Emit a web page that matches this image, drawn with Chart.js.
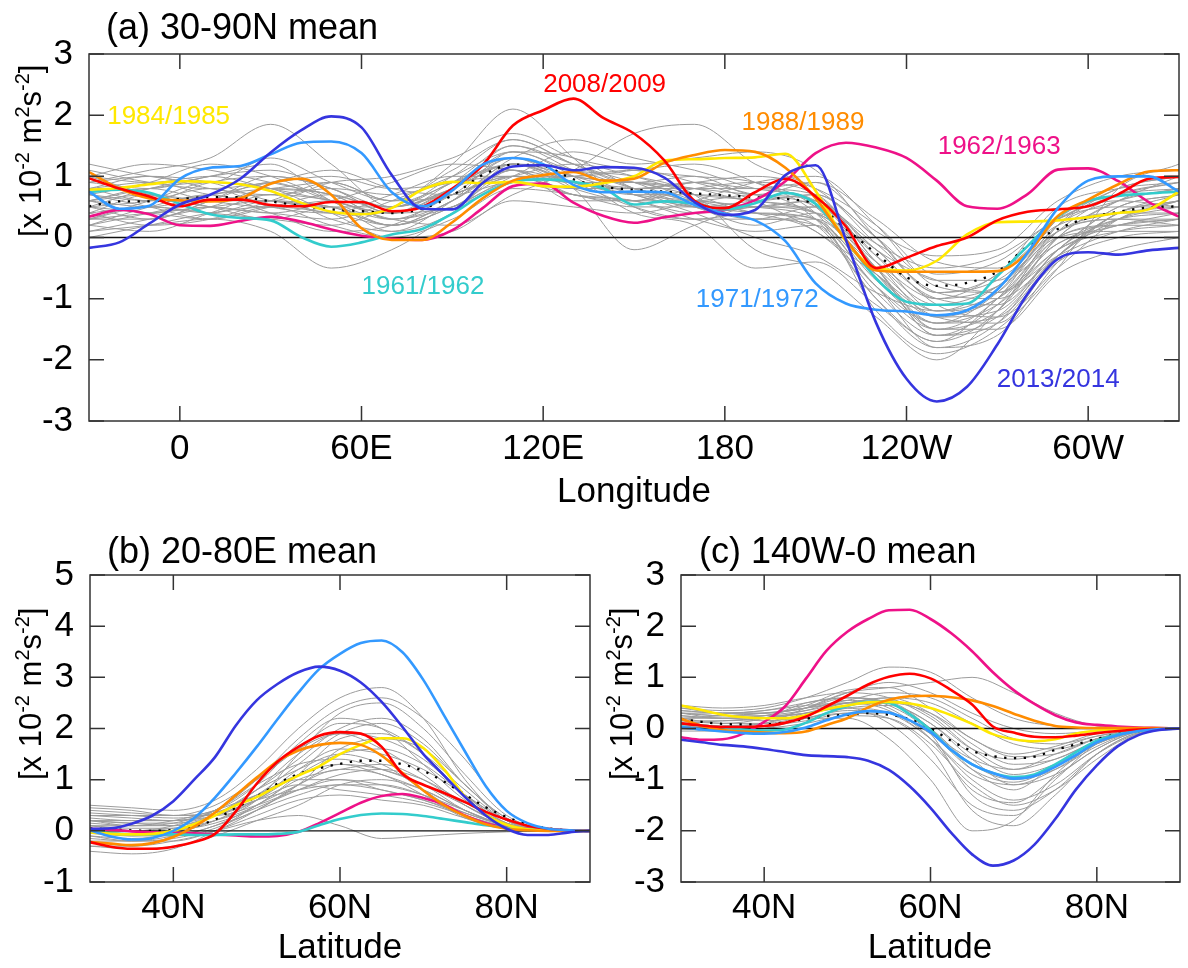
<!DOCTYPE html>
<html><head><meta charset="utf-8">
<script src="https://cdn.jsdelivr.net/npm/chart.js@4.4.1/dist/chart.umd.min.js"></script>
<style>
html,body{margin:0;padding:0;background:#fff;}
#wrap{position:relative;width:1188px;height:968px;overflow:hidden;}
canvas{position:absolute;}
</style></head><body>
<div id="wrap">
<canvas id="ca" width="1188" height="520" style="left:0;top:0;width:1188px;height:520px"></canvas>
<canvas id="cb" width="594" height="448" style="left:0;top:520px;width:594px;height:448px"></canvas>
<canvas id="cc" width="594" height="448" style="left:594px;top:520px;width:594px;height:448px"></canvas>
</div>
<script>
// ---------------- DATA ----------------
const seriesNames = ['2013/2014','1971/1972','2008/2009','1988/1989','1984/1985','1961/1962','1962/1963'];
const seriesColors = ['#3535df','#3399ff','#ff0000','#ff8c00','#ffe800','#33cccc','#ee1188'];

// Panel (a): longitude
const lonA = [-30,-20,-10,0,10,20,30,40,50,60,70,80,90,100,110,120,130,140,150,160,170,180,190,200,210,220,230,240,250,260,270,280,290,300,310,320,330];
const lonGray = [-30,-10,10,30,50,70,90,110,130,150,170,190,210,230,250,270,290,310,330];
const lonTickVals = [0,60,120,180,240,300];
const lonTickLabels = ['0','60E','120E','180','120W','60W'];
const yTicksA = [-3,-2,-1,0,1,2,3];

const a2013 = [-0.17,-0.08,0.23,0.54,0.70,0.96,1.39,1.75,1.98,1.80,1.02,0.47,0.46,0.89,1.16,1.18,1.10,1.15,1.14,0.98,0.58,0.37,0.45,1.02,1.18,-0.04,-1.40,-2.31,-2.68,-2.44,-1.75,-0.92,-0.35,-0.24,-0.28,-0.21,-0.17];
const a1971 = [0.75,0.47,0.52,0.96,1.14,1.17,1.36,1.55,1.57,1.38,0.74,0.51,0.77,1.19,1.30,1.20,0.86,0.74,0.75,0.74,0.53,0.39,0.28,-0.06,-0.75,-1.08,-1.18,-1.21,-1.27,-1.19,-0.85,-0.25,0.48,0.93,1.00,1.00,0.75];
const a2008 = [0.97,0.80,0.67,0.51,0.62,0.62,0.53,0.51,0.58,0.58,0.43,0.50,0.80,1.18,1.83,2.08,2.27,1.95,1.70,1.26,0.60,0.48,0.74,0.96,0.67,0.18,-0.50,-0.33,-0.14,0.00,0.28,0.42,0.46,0.51,0.71,0.96,0.99];
const a1988 = [1.07,0.80,0.64,0.61,0.59,0.64,0.88,0.96,0.70,0.15,-0.04,-0.04,0.25,0.64,0.93,1.02,1.07,0.93,0.96,1.22,1.35,1.43,1.40,1.14,0.64,-0.04,-0.54,-0.56,-0.56,-0.56,-0.55,-0.25,0.35,0.62,0.87,1.08,1.10];
const a1984 = [0.78,0.81,0.87,0.92,0.91,0.87,0.76,0.57,0.42,0.38,0.48,0.78,0.91,0.89,0.91,0.84,0.83,0.89,1.00,1.26,1.28,1.30,1.31,1.37,0.76,-0.06,-0.50,-0.54,-0.38,0.05,0.25,0.26,0.28,0.33,0.40,0.46,0.75];
const a1961 = [0.74,0.78,0.73,0.55,0.38,0.32,0.28,0.01,-0.15,-0.08,0.05,0.14,0.39,0.70,0.91,0.95,0.91,0.80,0.54,0.59,0.55,0.46,0.56,0.73,0.55,-0.04,-0.67,-1.05,-1.10,-1.08,-0.63,-0.14,0.34,0.60,0.68,0.72,0.75];
const a1962 = [0.34,0.45,0.38,0.20,0.19,0.27,0.34,0.26,0.13,0.03,-0.02,-0.04,0.12,0.48,0.84,0.88,0.57,0.35,0.24,0.33,0.40,0.45,0.61,0.92,1.38,1.55,1.47,1.30,0.93,0.51,0.47,0.71,1.11,1.13,0.92,0.58,0.34];
const aMean = [0.51,0.59,0.59,0.63,0.66,0.66,0.59,0.52,0.46,0.43,0.40,0.47,0.69,1.02,1.19,1.17,0.95,0.83,0.78,0.75,0.72,0.69,0.66,0.63,0.54,0.14,-0.26,-0.65,-0.79,-0.74,-0.56,-0.14,0.14,0.32,0.42,0.49,0.51];

const grayA = [
 [0.3,0.4,0.5,0.6,0.5,0.2,0.5,1.0,0.9,0.7,0.6,0.5,0.3,-0.6,-1.3,-1.0,-0.2,0.2,0.3],
 [0.9,1.1,1.3,1.85,1.2,0.5,0.8,1.3,1.0,0.9,0.8,0.7,0.6,-0.1,-0.5,-0.3,0.3,0.7,0.9],
 [0.1,0.2,0.3,0.1,-0.5,-0.2,0.4,1.1,0.7,0.6,0.9,0.8,0.7,-0.4,-1.1,-0.8,0.0,0.1,0.1],
 [1.2,1.0,0.9,1.3,0.9,0.6,1.2,2.1,1.3,0.5,0.3,0.4,0.3,-1.2,-1.9,-1.5,-0.5,0.8,1.2],
 [0.6,0.8,0.9,0.8,0.7,0.3,0.6,1.3,1.6,1.3,1.1,0.8,0.6,-0.5,-1.6,-1.3,-0.3,0.3,0.6],
 [0.4,0.5,0.4,0.3,0.2,0.5,0.9,1.5,1.2,0.9,1.0,0.7,0.9,0.3,-0.4,-0.5,0.2,0.4,0.4],
 [0.8,0.6,0.7,0.9,1.1,0.8,0.7,0.9,0.7,0.6,0.3,0.1,0.2,-0.8,-1.4,-0.9,0.2,0.6,0.8],
 [0.2,0.1,0.4,0.7,0.6,0.3,0.2,0.7,1.1,1.7,1.85,1.2,0.8,0.0,-0.9,-0.7,0.1,0.3,0.2],
 [0.7,0.9,1.2,1.0,0.6,0.1,0.4,1.2,0.8,-0.2,0.2,0.5,0.5,-0.3,-1.0,-1.1,-0.2,0.5,0.7],
 [1.0,0.7,0.5,0.4,0.3,0.6,1.0,1.4,1.1,1.0,0.7,-0.2,-0.5,-1.3,-2.0,-1.2,0.0,0.6,1.0],
 [0.5,0.6,0.8,0.5,0.4,0.7,1.0,1.0,0.8,0.8,0.9,1.0,0.8,0.2,-0.6,-0.4,0.3,0.5,0.5],
 [0.0,0.2,0.4,0.5,0.2,0.0,0.3,0.8,0.7,0.5,0.5,0.5,0.4,-0.5,-1.5,-1.5,-0.6,-0.2,0.0],
 [0.6,0.5,0.7,0.8,0.9,0.6,1.1,1.6,1.2,0.9,0.6,0.7,0.3,-1.0,-1.8,-1.6,-0.4,0.4,0.6],
 [0.9,1.0,0.9,0.6,0.5,0.2,0.5,1.0,1.4,1.2,1.3,1.4,1.1,0.0,-0.9,-0.6,0.5,0.8,0.9],
 [0.3,0.3,0.6,1.0,0.8,0.4,0.8,1.2,1.0,0.7,0.4,0.0,-0.3,-0.9,-1.2,-0.8,0.1,0.3,0.3],
 [0.4,0.7,0.5,0.3,0.5,0.2,0.6,1.1,0.6,0.6,0.8,0.9,0.7,-0.2,-0.7,-0.9,-0.1,0.2,0.4],
 [0.7,0.5,0.3,0.5,0.7,0.4,0.5,0.9,1.0,1.1,0.9,0.6,0.1,-0.6,-1.3,-1.4,-0.3,0.4,0.7],
 [0.5,0.8,1.0,1.2,0.6,0.3,0.7,1.3,0.9,0.8,0.5,0.2,0.4,-0.4,-1.0,-0.6,0.3,0.6,0.5],
 [0.2,0.4,0.6,0.7,0.3,0.1,0.6,1.4,1.0,0.4,0.2,-0.5,-0.4,-1.1,-1.7,-1.0,0.0,0.2,0.2],
 [1.1,0.9,0.8,0.9,1.0,0.8,0.9,1.2,0.9,0.8,0.8,0.8,0.9,0.1,-0.3,-0.2,0.6,1.0,1.1],
 [0.8,0.9,0.7,0.6,0.9,1.0,1.3,1.7,1.3,1.1,1.0,0.9,0.5,-0.6,-1.5,-1.2,0.0,0.6,0.8],
 [0.3,0.6,0.9,0.8,0.4,0.0,0.1,0.6,0.5,0.4,0.6,0.9,1.0,0.2,-0.8,-0.9,-0.3,0.1,0.3],
 [0.6,0.4,0.5,0.4,0.6,0.9,1.2,1.1,0.9,0.9,0.6,0.3,0.5,-0.2,-1.1,-1.3,-0.5,0.3,0.6],
 [1.0,1.2,1.1,0.9,0.7,0.5,0.8,1.5,1.1,0.7,0.5,0.4,0.2,-1.0,-1.7,-1.2,0.2,0.8,1.0],
 [0.5,0.3,0.6,0.9,0.6,0.4,0.9,1.3,1.0,0.9,0.7,0.6,0.4,-0.5,-1.2,-0.9,0.1,0.4,0.5],
 [0.2,0.5,0.7,0.4,0.1,0.2,0.7,1.0,1.2,1.0,0.7,0.4,0.3,-0.7,-1.4,-1.1,-0.2,0.1,0.2],
 [0.9,0.8,1.0,1.1,0.8,0.5,0.9,1.2,0.8,0.6,0.6,0.5,0.6,-0.3,-1.2,-1.0,0.1,0.7,0.9],
 [0.4,0.2,0.3,0.6,0.9,0.6,0.7,1.1,0.9,0.7,0.7,0.6,0.4,-0.2,-1.0,-0.8,-0.1,0.3,0.4],
 [0.6,0.7,0.6,0.6,0.4,0.4,0.8,1.4,1.3,0.8,0.5,0.6,0.7,-0.1,-0.9,-1.0,-0.3,0.4,0.6],
 [0.1,0.3,0.5,0.8,0.7,0.3,0.5,0.9,0.8,0.8,0.9,0.7,0.5,-0.5,-1.6,-1.4,-0.4,0.0,0.1],
 [0.8,1.0,0.8,0.7,0.8,0.7,0.9,1.0,1.0,1.1,1.2,0.9,0.4,-0.8,-1.5,-1.0,0.3,0.7,0.8],
 [0.5,0.4,0.3,0.5,0.4,0.2,0.6,1.2,1.1,0.8,0.6,0.4,0.1,-0.8,-1.8,-1.4,-0.2,0.3,0.5],
 [0.7,0.6,0.9,1.0,0.8,0.4,0.7,1.0,0.7,0.6,0.4,0.5,0.6,-0.4,-1.3,-1.2,-0.2,0.5,0.7],
 [0.3,0.5,0.4,0.6,0.5,0.5,0.8,1.2,0.9,0.5,0.3,0.3,0.2,-0.9,-1.6,-1.1,0.0,0.2,0.3],
 [1.0,0.9,1.0,0.8,0.6,0.4,0.7,1.0,0.9,0.9,0.8,0.6,0.7,0.0,-0.7,-0.7,0.2,0.8,1.0],
 [0.6,0.8,0.6,0.5,0.6,0.5,1.0,1.6,1.2,0.8,0.5,0.3,0.3,-0.6,-1.4,-1.3,-0.3,0.4,0.6]
];

// Panels (b) and (c): latitude
const latBC = [30,32.5,35,37.5,40,42.5,45,47.5,50,52.5,55,57.5,60,62.5,65,67.5,70,72.5,75,77.5,80,82.5,85,87.5,90];
const latGray = [30,35,40,45,50,55,60,65,70,75,80,85,90];
const latTickVals = [40,60,80];
const latTickLabels = ['40N','60N','80N'];
const yTicksB = [-1,0,1,2,3,4,5];
const yTicksC = [-3,-2,-1,0,1,2,3];

const b2013 = [0.04,0.05,0.14,0.30,0.58,1.00,1.44,2.06,2.55,2.87,3.10,3.21,3.13,2.90,2.52,2.03,1.50,1.08,0.66,0.30,0.04,-0.08,-0.08,-0.03,0];
const b1971 = [0.01,-0.11,-0.17,-0.14,0.00,0.25,0.65,1.13,1.64,2.18,2.70,3.16,3.46,3.67,3.72,3.49,2.95,2.25,1.55,0.87,0.39,0.15,0.04,0.01,0];
const b2008 = [-0.22,-0.31,-0.35,-0.35,-0.31,-0.22,-0.06,0.38,0.92,1.35,1.64,1.86,1.93,1.90,1.64,1.11,0.90,0.74,0.56,0.37,0.22,0.10,0.04,0.01,0];
const b1988 = [-0.22,-0.25,-0.28,-0.24,-0.12,0.08,0.36,0.70,1.04,1.36,1.57,1.68,1.72,1.68,1.47,1.13,0.79,0.50,0.29,0.13,0.04,0.01,0,0,0];
const b1984 = [-0.03,-0.06,-0.07,-0.06,0.00,0.13,0.30,0.50,0.66,0.88,1.08,1.26,1.50,1.68,1.81,1.81,1.62,1.20,0.67,0.32,0.12,0.03,0.01,0,0];
const b1961 = [0.01,-0.05,-0.07,-0.07,-0.07,-0.08,-0.08,-0.07,-0.07,-0.06,-0.02,0.11,0.23,0.31,0.34,0.33,0.29,0.23,0.17,0.11,0.06,0.03,0.01,0,0];
const b1962 = [0.04,0.02,-0.01,-0.03,-0.04,-0.05,-0.07,-0.09,-0.11,-0.10,-0.02,0.15,0.35,0.55,0.68,0.72,0.64,0.51,0.30,0.15,0.07,0.04,0.01,0,0];
const bMean = [0.05,0.03,0.01,0.00,0.02,0.09,0.22,0.45,0.67,0.92,1.11,1.22,1.31,1.37,1.37,1.30,1.17,0.96,0.71,0.46,0.27,0.13,0.05,0.01,0];

const grayB = [
 [0.5,0.45,0.4,0.6,1.2,2.0,2.6,2.8,2.2,1.0,0.2,0.02,0],
 [0.3,0.3,0.3,0.5,1.0,1.6,2.1,2.0,1.5,0.7,0.15,0.02,0],
 [-0.2,-0.3,-0.1,0.3,0.8,1.2,1.5,1.3,0.8,0.3,0.05,0,0],
 [0.2,0.1,0.2,0.4,0.7,1.0,1.0,0.8,0.6,0.3,0.08,0.01,0],
 [0.0,-0.1,0.0,0.2,0.6,1.5,2.3,2.5,2.0,1.1,0.3,0.03,0],
 [-0.4,-0.45,-0.35,0.0,0.5,0.9,1.3,1.2,0.9,0.4,0.1,0.01,0],
 [0.1,0.1,0.1,0.3,0.6,0.8,0.9,0.8,0.6,0.35,0.1,0.02,0],
 [0.4,0.35,0.3,0.4,0.9,1.7,2.2,2.0,1.3,0.6,0.15,0.02,0],
 [-0.1,-0.2,-0.2,0.0,0.3,0.6,0.7,0.6,0.5,0.25,0.08,0.01,0],
 [0.2,0.2,0.2,0.4,1.0,1.8,2.4,2.6,2.2,1.4,0.4,0.04,0],
 [0.0,0.0,0.05,0.2,0.5,1.1,1.8,1.9,1.5,0.8,0.2,0.02,0],
 [-0.3,-0.35,-0.3,-0.1,0.2,0.5,0.9,1.0,0.8,0.4,0.1,0.01,0],
 [0.3,0.25,0.2,0.3,0.6,1.2,1.6,1.5,1.2,0.7,0.2,0.02,0],
 [0.1,0.0,-0.1,0.1,0.4,0.9,1.2,1.1,0.7,0.25,0.05,0.0,0],
 [-0.05,-0.1,-0.1,0.0,0.2,0.3,0.1,-0.15,-0.1,-0.05,-0.02,0,0],
 [0.2,0.15,0.1,0.3,0.8,1.4,2.0,2.2,1.8,0.9,0.25,0.03,0],
 [0.45,0.4,0.3,0.3,0.5,0.8,1.0,0.9,0.7,0.4,0.1,0.01,0],
 [-0.2,-0.2,-0.1,0.1,0.5,1.0,1.2,1.3,1.0,0.5,0.12,0.01,0],
 [0.15,0.1,0.15,0.4,0.9,1.3,1.4,1.2,0.9,0.5,0.12,0.01,0],
 [-0.1,-0.15,-0.05,0.2,0.6,1.1,1.5,1.6,1.3,0.7,0.2,0.02,0],
 [0.25,0.2,0.2,0.35,0.7,1.1,1.3,1.1,0.8,0.4,0.1,0.01,0],
 [0.1,0.05,0.05,0.3,0.8,1.5,1.9,1.8,1.4,0.7,0.15,0.02,0],
 [-0.15,-0.2,-0.15,0.05,0.4,0.7,0.9,0.9,0.7,0.35,0.1,0.01,0],
 [0.35,0.3,0.25,0.35,0.7,1.3,1.9,2.1,1.7,0.9,0.25,0.02,0],
 [0.0,-0.05,0.0,0.15,0.45,0.8,1.1,1.2,1.0,0.55,0.15,0.02,0],
 [0.2,0.15,0.15,0.3,0.6,0.9,0.8,0.7,0.55,0.3,0.08,0.01,0],
 [-0.3,-0.3,-0.2,0.0,0.4,0.9,1.6,1.8,1.6,0.9,0.2,0.02,0],
 [0.05,0.0,0.1,0.4,1.0,1.6,1.9,1.6,1.1,0.5,0.12,0.01,0]
];

const c2013 = [-0.22,-0.27,-0.32,-0.35,-0.40,-0.46,-0.52,-0.54,-0.56,-0.63,-0.81,-1.13,-1.55,-2.04,-2.46,-2.68,-2.58,-2.27,-1.77,-1.19,-0.72,-0.35,-0.13,-0.03,0];
const c1971 = [0.03,-0.02,-0.06,-0.09,-0.10,-0.07,0.02,0.16,0.28,0.34,0.31,0.16,-0.07,-0.42,-0.70,-0.87,-0.98,-0.93,-0.75,-0.52,-0.27,-0.13,-0.05,-0.01,0];
const c2008 = [0.10,0.06,0.03,0.03,0.05,0.11,0.23,0.43,0.64,0.86,1.01,1.07,0.98,0.75,0.47,0.04,-0.08,-0.16,-0.17,-0.14,-0.09,-0.05,-0.02,-0.01,0];
const c1988 = [0.19,0.05,-0.03,-0.06,-0.08,-0.09,-0.06,0.07,0.20,0.41,0.56,0.63,0.64,0.61,0.55,0.44,0.29,0.15,0.05,0.02,0.01,0.01,0.01,0.01,0];
const c1984 = [0.45,0.36,0.27,0.22,0.20,0.20,0.26,0.38,0.45,0.51,0.52,0.49,0.40,0.26,0.09,-0.11,-0.21,-0.25,-0.21,-0.10,-0.04,-0.01,0,0,0];
const c1961 = [0.09,0.06,0.02,-0.02,-0.04,-0.02,0.11,0.30,0.44,0.52,0.50,0.28,-0.03,-0.42,-0.70,-0.87,-0.95,-0.90,-0.70,-0.46,-0.24,-0.12,-0.05,-0.01,0];
const c1962 = [-0.17,-0.22,-0.21,-0.10,0.13,0.43,0.97,1.52,1.89,2.14,2.31,2.32,2.14,1.86,1.51,1.10,0.75,0.48,0.26,0.12,0.07,0.04,0.02,0.01,0];
const cMean = [0.19,0.13,0.09,0.08,0.08,0.12,0.19,0.24,0.27,0.30,0.27,0.18,0.00,-0.24,-0.44,-0.54,-0.58,-0.55,-0.42,-0.31,-0.20,-0.11,-0.05,-0.01,0];

const grayC = [
 [0.4,0.35,0.4,0.6,0.9,1.2,1.1,0.6,0.2,0.05,0.01,0,0],
 [0.2,0.1,0.2,0.5,0.6,0.5,0.0,-0.8,-1.2,-0.7,-0.25,-0.05,0],
 [0.3,0.2,0.2,0.3,0.4,0.1,-0.6,-1.5,-1.7,-1.0,-0.3,-0.05,0],
 [0.0,-0.05,0.0,0.2,0.3,0.3,-0.1,-0.6,-0.8,-0.5,-0.2,-0.03,0],
 [0.45,0.4,0.45,0.6,0.7,0.6,0.2,-0.4,-0.6,-0.4,-0.15,-0.03,0],
 [0.1,0.05,0.1,0.4,0.7,0.8,0.9,1.0,0.7,0.3,0.05,0,0],
 [0.2,0.2,0.15,0.2,0.2,-0.2,-1.0,-2.0,-1.8,-0.9,-0.3,-0.05,0],
 [0.35,0.3,0.3,0.4,0.6,0.5,0.1,-0.5,-0.9,-0.7,-0.3,-0.05,0],
 [0.1,0.15,0.2,0.3,0.4,0.3,-0.2,-1.0,-1.4,-1.1,-0.5,-0.1,0],
 [0.25,0.2,0.25,0.45,0.75,0.8,0.4,-0.2,-0.5,-0.35,-0.1,-0.02,0],
 [-0.05,-0.05,0.0,0.1,0.25,0.2,-0.3,-1.1,-1.5,-1.2,-0.6,-0.1,0],
 [0.3,0.25,0.3,0.4,0.5,0.6,0.5,0.1,-0.3,-0.4,-0.2,-0.03,0],
 [0.15,0.1,0.1,0.25,0.5,0.5,0.0,-0.7,-1.0,-0.8,-0.35,-0.05,0],
 [0.4,0.3,0.35,0.5,0.6,0.45,-0.1,-1.3,-1.6,-1.2,-0.5,-0.08,0],
 [0.2,0.25,0.3,0.4,0.7,0.9,0.7,0.3,0.0,-0.1,-0.05,0,0],
 [0.05,0.0,0.05,0.15,0.3,0.2,-0.4,-1.6,-1.9,-1.3,-0.5,-0.08,0],
 [0.3,0.3,0.35,0.45,0.5,0.35,-0.2,-0.9,-1.1,-0.8,-0.3,-0.05,0],
 [0.0,0.05,0.1,0.3,0.5,0.6,0.3,-0.3,-0.7,-0.6,-0.25,-0.04,0],
 [0.25,0.2,0.25,0.35,0.5,0.55,0.25,-0.4,-0.8,-0.6,-0.25,-0.04,0],
 [0.05,0.0,0.05,0.2,0.4,0.45,0.1,-0.6,-1.1,-0.9,-0.4,-0.06,0],
 [0.35,0.3,0.3,0.4,0.55,0.7,0.6,0.2,-0.2,-0.3,-0.15,-0.02,0],
 [0.15,0.15,0.2,0.35,0.55,0.4,-0.2,-1.2,-1.45,-0.95,-0.4,-0.06,0],
 [0.1,0.05,0.05,0.2,0.35,0.3,-0.1,-0.8,-1.05,-0.75,-0.3,-0.05,0],
 [0.3,0.25,0.25,0.3,0.45,0.5,0.3,-0.2,-0.55,-0.5,-0.2,-0.03,0]
];

// ---------------- RENDERING ----------------
const FONT = "'Liberation Sans', Arial, Helvetica, sans-serif";
const pts = (xs, ys) => ys.map((v, i) => ({x: xs[i], y: v}));

function buildDatasets(xs, series, mean, grays, xsGray, xMin, xMax) {
  const ds = [];
  series.forEach((s, i) => ds.push({
    label: seriesNames[i], data: pts(xs, s), borderColor: seriesColors[i],
    borderWidth: 2.6, pointRadius: 0, cubicInterpolationMode: 'monotone', fill: false, order: 0
  }));
  ds.push({label: 'mean', data: pts(xs, mean), borderColor: '#000', borderWidth: 2.3,
    borderDash: [2.3, 7.5], pointRadius: 0, cubicInterpolationMode: 'monotone', fill: false, order: 1});
  ds.push({label: 'zero', data: pts([xMin, xMax], [0, 0]), borderColor: '#111', borderWidth: 1.3,
    pointRadius: 0, fill: false, order: 2});
  grays.forEach(g => ds.push({label: '', data: pts(xsGray, g), borderColor: '#9c9c9c',
    borderWidth: 1, pointRadius: 0, cubicInterpolationMode: 'monotone', fill: false, order: 3}));
  return ds;
}

function drawYTitle(ctx, x, y) {
  ctx.save();
  ctx.translate(x, y);
  ctx.rotate(-Math.PI / 2);
  ctx.fillStyle = '#000';
  ctx.textAlign = 'left';
  ctx.textBaseline = 'alphabetic';
  const parts = [['[x 10', 0], ['-2', 1], [' m', 0], ['2', 1], ['s', 0], ['-2', 1], [']', 0]];
  let cx = 0;
  for (const [t, sup] of parts) {
    ctx.font = (sup ? 20 : 31) + 'px ' + FONT;
    ctx.fillText(t, cx, sup ? -12 : 0);
    cx += ctx.measureText(t).width;
  }
  ctx.restore();
}

function makeChart(id, cfg) {
  const framePlugin = {
    id: 'frame_' + id,
    afterDatasetsDraw(chart) {
      const {ctx, chartArea: a, scales: {x, y}} = chart;
      ctx.save();
      ctx.strokeStyle = '#333';
      ctx.lineWidth = 1.5;
      ctx.strokeRect(a.left, a.top, a.right - a.left, a.bottom - a.top);
      const L = 15;
      ctx.beginPath();
      cfg.yTicks.forEach(v => {
        const p = y.getPixelForValue(v);
        ctx.moveTo(a.left, p); ctx.lineTo(a.left + L, p);
        ctx.moveTo(a.right, p); ctx.lineTo(a.right - L, p);
      });
      cfg.xTicks.forEach(v => {
        const p = x.getPixelForValue(v);
        ctx.moveTo(p, a.bottom); ctx.lineTo(p, a.bottom - L);
        ctx.moveTo(p, a.top); ctx.lineTo(p, a.top + L);
      });
      ctx.stroke();
      ctx.restore();
    }
  };
  const textPlugin = {
    id: 'text_' + id,
    afterDraw(chart) {
      const ctx = chart.ctx;
      ctx.save();
      for (const t of cfg.texts) {
        ctx.font = t.size + 'px ' + FONT;
        ctx.fillStyle = t.color || '#000';
        ctx.textAlign = t.align || 'left';
        ctx.textBaseline = 'alphabetic';
        ctx.fillText(t.text, t.x, t.y);
      }
      (cfg.annots || []).forEach(an => {
        ctx.font = '26px ' + FONT;
        ctx.fillStyle = an.color;
        ctx.textAlign = 'left';
        ctx.textBaseline = 'middle';
        ctx.fillText(an.text, chart.scales.x.getPixelForValue(an.xv), chart.scales.y.getPixelForValue(an.yv));
      });
      drawYTitle(ctx, cfg.yTitle.x, cfg.yTitle.y);
      ctx.restore();
    }
  };
  return new Chart(document.getElementById(id), {
    type: 'line',
    data: {datasets: cfg.datasets},
    options: {
      responsive: false, animation: false, devicePixelRatio: 1,
      layout: {padding: cfg.padding},
      plugins: {legend: {display: false}, tooltip: {enabled: false}, title: {display: false}},
      scales: {
        x: {
          type: 'linear', min: cfg.xMin, max: cfg.xMax,
          afterBuildTicks: sc => { sc.ticks = cfg.xTicks.map(v => ({value: v})); },
          afterFit: sc => { sc.height = cfg.xAxisH; },
          ticks: {autoSkip: false, maxRotation: 0, minRotation: 0, padding: cfg.xTickPad,
            font: {family: FONT, size: 35}, color: '#000',
            callback: v => { const i = cfg.xTicks.indexOf(v); return i >= 0 ? cfg.xLabels[i] : ''; }},
          grid: {display: false, drawTicks: false}, border: {display: false}
        },
        y: {
          type: 'linear', min: cfg.yMin, max: cfg.yMax,
          afterBuildTicks: sc => { sc.ticks = cfg.yTicks.map(v => ({value: v})); },
          afterFit: sc => { sc.width = cfg.yAxisW; },
          ticks: {autoSkip: false, padding: cfg.yTickPad, font: {family: FONT, size: 35}, color: '#000',
            callback: v => String(v)},
          grid: {display: false, drawTicks: false}, border: {display: false}
        }
      }
    },
    plugins: [framePlugin, textPlugin]
  });
}

// Panel (a)
makeChart('ca', {
  datasets: buildDatasets(lonA, [a2013, a1971, a2008, a1988, a1984, a1961, a1962], aMean, grayA, lonGray, -30, 330),
  xMin: -30, xMax: 330, yMin: -3, yMax: 3,
  xTicks: lonTickVals, xLabels: lonTickLabels, yTicks: yTicksA,
  padding: {left: 0, top: 54, right: 9, bottom: 9},
  xAxisH: 90, yAxisW: 89, xTickPad: 7, yTickPad: 16,
  texts: [
    {text: '(a) 30-90N mean', x: 106, y: 39, size: 36},
    {text: 'Longitude', x: 634, y: 502, size: 35, align: 'center'}
  ],
  annots: [
    {text: '1984/1985', xv: -24, yv: 1.98, color: seriesColors[4]},
    {text: '2008/2009', xv: 120, yv: 2.50, color: seriesColors[2]},
    {text: '1988/1989', xv: 185.5, yv: 1.88, color: seriesColors[3]},
    {text: '1962/1963', xv: 250.3, yv: 1.49, color: seriesColors[6]},
    {text: '1961/1962', xv: 60, yv: -0.81, color: seriesColors[5]},
    {text: '1971/1972', xv: 170.4, yv: -1.02, color: seriesColors[1]},
    {text: '2013/2014', xv: 269.8, yv: -2.32, color: seriesColors[0]}
  ],
  yTitle: {x: 41, y: 237}
});

// Panel (b)
makeChart('cb', {
  datasets: buildDatasets(latBC, [b2013, b1971, b2008, b1988, b1984, b1961, b1962], bMean, grayB, latGray, 30, 90),
  xMin: 30, xMax: 90, yMin: -1, yMax: 5,
  xTicks: latTickVals, xLabels: latTickLabels, yTicks: yTicksB,
  padding: {left: 0, top: 55, right: 4, bottom: 10},
  xAxisH: 76, yAxisW: 90, xTickPad: 5, yTickPad: 16,
  texts: [
    {text: '(b) 20-80E mean', x: 107, y: 43, size: 36},
    {text: 'Latitude', x: 340, y: 438, size: 35, align: 'center'}
  ],
  yTitle: {x: 41, y: 260}
});

// Panel (c)
makeChart('cc', {
  datasets: buildDatasets(latBC, [c2013, c1971, c2008, c1988, c1984, c1961, c1962], cMean, grayC, latGray, 30, 90),
  xMin: 30, xMax: 90, yMin: -3, yMax: 3,
  xTicks: latTickVals, xLabels: latTickLabels, yTicks: yTicksC,
  padding: {left: 0, top: 55, right: 8, bottom: 10},
  xAxisH: 76, yAxisW: 87, xTickPad: 5, yTickPad: 16,
  texts: [
    {text: '(c) 140W-0 mean', x: 105, y: 43, size: 36},
    {text: 'Latitude', x: 336, y: 438, size: 35, align: 'center'}
  ],
  yTitle: {x: 38, y: 260}
});
</script>
</body></html>
